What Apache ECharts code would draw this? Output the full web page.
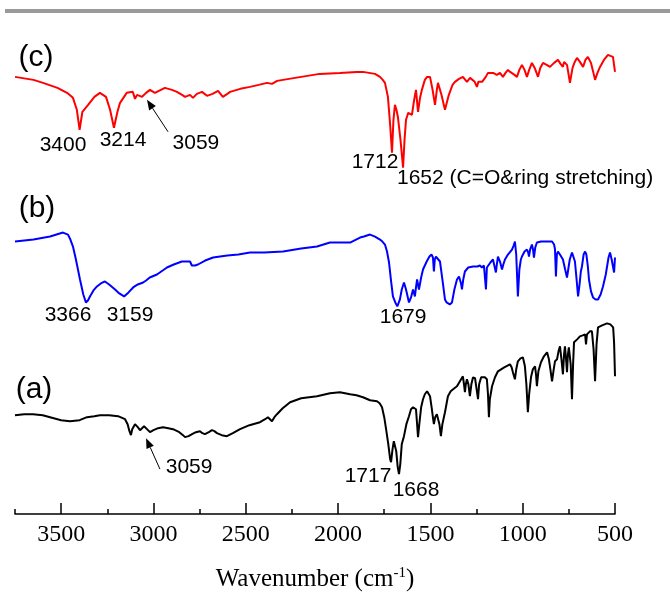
<!DOCTYPE html>
<html>
<head>
<meta charset="utf-8">
<script src="https://cdn.jsdelivr.net/npm/echarts@6/dist/echarts.min.js"></script>
<style>
  html, body { margin: 0; padding: 0; background: #fff; }
  #chart { width: 670px; height: 597px; }
</style>
</head>
<body>
<div id="chart"></div>
<script>
// wavenumber (cm-1) and offset transmittance readings, one pair of arrays per spectrum
var wnC = [3750,3650,3598,3520,3468,3436,3415,3400,3385,3354,3320,3290,3257,3235,3214,3195,3181,3145,3112,3100,3089,3075,3062,3040,3019,2992,2960,2938,2900,2873,2845,2829,2815,2802,2786,2765,2737,2710,2680,2650,2624,2600,2585,2530,2477,2430,2385,2358,2330,2298,2200,2100,1990,1900,1865,1800,1773,1758,1746,1730,1718,1708,1700,1692,1684,1676,1662,1648,1640,1632,1620,1610,1600,1588,1578,1567,1556,1546,1530,1518,1502,1488,1475,1465,1459,1440,1421,1400,1380,1367,1345,1324,1302,1285,1275,1260,1248,1240,1232,1220,1210,1200,1188,1160,1140,1123,1107,1093,1080,1068,1058,1044,1031,1018,1004,990,977,965,950,935,917,905,890,870,852,830,809,795,782,776,771,760,744,730,718,706,690,673,660,647,630,618,608,595,581,560,538,525,516,511,505,500];
var tC = [87.6,87,86.4,85.4,84.4,83.4,81,77,80.6,82,83.6,84.4,83.6,81,77.4,80.6,82.4,84.4,84.6,83.2,84,83.8,83.6,84.4,85,84.4,85,85.4,85,84.6,84,83.6,83.8,84,83.4,84.2,84.6,83.8,84.2,84.8,83.6,84.2,84.6,85.2,85.6,86,86.4,86.2,86.8,87,87.6,88.2,88.4,88.6,88.6,88.2,87.6,87,86.4,83.6,78,72.4,79,82,81,79.6,75,69.4,75,79,80.4,80.6,80,83,85,80.6,83.4,85,87,87.6,87.6,85,82,85,86.4,84,81,84,86,86.6,87.2,87.6,86.6,87.4,87.6,86.6,85.6,86.6,87,86.6,86.4,87.6,88.4,88.4,88,88.4,87.6,88.4,89,88.6,88.4,88,87.6,89,90,89,87.6,89,90.4,89.4,87.6,89.4,90.4,90,89.6,90.4,91,90.2,89.6,90.6,91,90,86.4,89.4,90.6,91.4,90.6,89.6,91,91.6,90.4,88.6,87,88.4,89.6,91,92,91.8,91.4,91.6,91.4,88.6];

var wnB = [3750,3650,3560,3490,3463,3450,3436,3420,3398,3380,3366,3355,3344,3325,3306,3285,3263,3240,3208,3185,3159,3135,3110,3085,3056,3040,3020,2981,2950,2927,2890,2846,2820,2802,2792,2786,2775,2759,2720,2677,2600,2540,2477,2400,2298,2200,2114,2044,1990,1935,1881,1860,1827,1800,1773,1760,1746,1735,1724,1714,1703,1690,1679,1672,1665,1655,1643,1632,1616,1605,1594,1584,1578,1572,1562,1550,1540,1520,1505,1494,1486,1481,1476,1470,1460,1448,1435,1421,1412,1405,1395,1383,1370,1356,1345,1340,1334,1329,1322,1313,1295,1269,1245,1232,1221,1210,1204,1199,1194,1188,1175,1161,1153,1145,1140,1134,1123,1112,1105,1096,1080,1058,1049,1042,1035,1026,1018,1010,1004,990,977,970,966,960,950,944,939,932,923,900,890,860,841,830,825,820,815,809,795,782,770,760,745,733,725,717,708,700,692,685,679,670,662,655,647,641,630,619,605,592,578,565,550,535,527,518,511,505,500];
var tB = [54.6,55,55.6,56.4,56,55,53.6,51,47,44,42.4,42.8,43.6,44.8,45.6,46.2,46.6,46,45,44.2,43.6,44.4,45.4,46,46.4,46.8,47.4,48,48.8,49.4,50,50.6,50.6,50.6,49.8,49.4,49.8,50,50.8,51.4,51.8,52,52.4,52.4,52.6,53.2,53.6,54.4,54.4,54.4,55.4,55.6,56,55.6,55,54.6,54,52.6,50.4,47,43.6,42.4,41.6,42,43,45,46.4,45,42.4,43.4,45,43.6,45.4,47,45,47.4,49,50.6,51.6,52,51.4,48.6,51,51.6,51.4,50.6,47,43,42.4,42.4,42,42.4,45,47,47.6,47.6,46.2,45,47,48.6,49.4,49.6,49.6,49.8,49.4,49.8,50,45,49.4,49.6,50.4,51,50.6,48.4,50,51.6,50.6,49,50,51,52,53,53.8,54.6,52,43.6,49,51,51.6,52.6,53,52.4,51.6,53,54,53,51.4,53.4,54.4,54.6,54.6,54.6,54.6,54,53,47.6,52,52.6,51.8,51,49,47.4,51,52.4,52,50.6,47,43.6,46,48.6,49.6,52,52.6,52,49.6,47,44.6,43.4,43,43,44,45.6,48,51.4,52.4,51,50.6,48.4,51.4];

var wnA = [3750,3700,3652,3600,3560,3500,3452,3400,3360,3320,3290,3240,3192,3154,3140,3130,3122,3115,3100,3085,3073,3062,3051,3035,3019,3000,2975,2948,2920,2894,2860,2840,2829,2810,2791,2770,2748,2735,2721,2700,2683,2670,2656,2630,2602,2570,2531,2480,2423,2395,2380,2370,2358,2345,2331,2300,2260,2200,2114,2044,1990,1935,1900,1865,1827,1789,1775,1762,1750,1740,1728,1718,1713,1705,1698,1692,1685,1677,1670,1663,1655,1643,1630,1616,1605,1594,1586,1578,1572,1567,1560,1550,1540,1530,1518,1510,1502,1492,1485,1481,1474,1465,1459,1451,1443,1435,1421,1410,1405,1390,1370,1356,1340,1324,1318,1313,1308,1302,1294,1286,1278,1269,1258,1248,1242,1236,1225,1215,1205,1194,1188,1183,1178,1166,1150,1134,1100,1069,1060,1053,1047,1042,1035,1026,1012,999,993,988,980,972,965,955,945,933,928,923,915,901,885,868,858,850,841,832,825,814,806,798,790,782,776,771,765,760,755,750,740,733,727,722,705,690,675,662,657,652,647,636,625,616,608,600,592,570,543,525,516,510,505,500];
var tA = [19.8,20,20,19.8,19.4,18.8,18.6,18.8,19.4,19.6,19.8,19.8,19.6,19,18,16.6,15.8,17,18,17.4,16.8,17.2,17.6,17,16.4,16.8,17.2,17.4,17.2,17,16.4,15.8,15.4,15.6,16,16.4,16.6,16.2,16,16.4,16.8,16.6,16.2,15.8,15.6,16.2,17,17.8,18.4,19,19.4,19.2,18.6,19.4,20,21.2,22.4,23.2,23.6,24.2,24.4,24,23.8,23.4,22.8,22.6,22.2,21.4,19.4,17,14,11,10.4,13,14.6,14.6,12.6,9.4,8,10,14,15.6,18,19.6,21,21.4,21.4,21,18,15.4,18,21.4,23,24,24.6,24.2,23.6,21,19,18,19.4,20,19.6,18,15.6,18,20.4,22.6,23.6,24.6,25.2,25.6,26.6,27.6,26,24.4,26,27,26,23.6,26,27.4,27.2,27,23,26,27.4,27.6,27.4,27,24,19.4,23,25.6,27.4,28.6,29.4,30,29.4,28.4,27.6,27,29,30.6,31.2,31.4,31,29.6,26,20.4,24,27.4,29,29.6,28,25.6,28.6,30.4,31.6,32.4,31,29,26.6,29,30.6,31,32.6,33.6,31,28,32,33.6,31,28.4,32,33.4,30,23,30,34.4,35,35.6,35.8,36,34,36,36.4,36.6,36.6,33,26.6,34,37.4,37.8,38.2,38,38,37.4,34.4,27.6];

// labelled bottom-axis ticks and the unlabelled ones in between
var majorTicks = [500, 1000, 1500, 2000, 2500, 3000, 3500];
var minorTicks = [750, 1250, 1750, 2250, 2750, 3250, 3750];

// peak annotations: [text, wavenumber, level]
var peakLabels = [
  ['3400', 3490, 74], ['3214', 3165, 75], ['3059', 2770, 74.4],
  ['1712', 1800, 70.6],
  ['3366', 3463, 39.8], ['3159', 3127, 39.8], ['1679', 1648, 39.4],
  ['3059', 2807, 9.4], ['1717', 1838, 7.6], ['1668', 1578, 4.8]
];
var sampleLabels = [['(c)', 3636, 91.4], ['(b)', 3631, 61.2], ['(a)', 3647, 25]];
var arrows = [[2921, 76.6, 3035, 83], [2965, 9, 3040, 15.2]];

function pairs(xs, ys) {
  var out = [];
  for (var i = 0; i < xs.length; i++) out.push([xs[i], ys[i]]);
  return out;
}

var chart = echarts.init(document.getElementById('chart'));

var axisFont = '"Liberation Serif", "Times New Roman", serif';
var textFont = '"Liberation Sans", Arial, sans-serif';

chart.setOption({
  animation: false,
  grid: { left: 15, right: 55, top: 15, bottom: 82 },
  xAxis: [{
    type: 'value', inverse: true, min: 500, max: 3750,
    axisLine: { lineStyle: { color: '#000', width: 1.5 } },
    axisTick: { inside: false, length: -11, customValues: majorTicks, lineStyle: { color: '#000', width: 1.5 } },
    axisLabel: {
      customValues: majorTicks, color: '#000', fontFamily: axisFont, fontSize: 24, margin: 9,
      formatter: function (v) { return String(v); }
    },
    splitLine: { show: false },
    name: '{a|Wavenumber (cm}{s|-1}{a|)}',
    nameLocation: 'middle', nameGap: 52,
    nameTextStyle: {
      rich: {
        a: { fontFamily: axisFont, fontSize: 25, color: '#000' },
        s: { fontFamily: axisFont, fontSize: 15, color: '#000', verticalAlign: 'top', padding: [0, 0, 12, 0] }
      }
    }
  }, {
    type: 'value', inverse: true, min: 500, max: 3750, position: 'bottom',
    axisLine: { show: false },
    axisTick: { inside: false, length: -5, customValues: minorTicks, lineStyle: { color: '#000', width: 1.5 } },
    axisLabel: { show: false },
    splitLine: { show: false }
  }],
  yAxis: { type: 'value', min: 0, max: 100, show: false },
  series: [
    { name: 'c', type: 'line', data: pairs(wnC, tC), showSymbol: false, lineStyle: { color: '#ff0000', width: 2 } },
    { name: 'b', type: 'line', data: pairs(wnB, tB), showSymbol: false, lineStyle: { color: '#0000ff', width: 2 } },
    { name: 'a', type: 'line', data: pairs(wnA, tA), showSymbol: false, lineStyle: { color: '#000000', width: 2 } }
  ]
});

// texts and arrows are anchored in data space and placed with the chart's own scales
function px(wn, v) { return chart.convertToPixel({ xAxisIndex: 0, yAxisIndex: 0 }, [wn, v]); }

var g = [];
g.push({ type: 'rect', shape: { x: 5, y: 9, width: 665, height: 4 }, style: { fill: '#9a9a9a' } });
peakLabels.forEach(function (p) {
  var q = px(p[1], p[2]);
  g.push({ type: 'text', x: q[0], y: q[1], style: { text: p[0], font: '21px ' + textFont, fill: '#000', align: 'center', verticalAlign: 'middle' } });
});
var q1652 = px(1681, 67.2);
g.push({ type: 'text', x: q1652[0], y: q1652[1], style: { text: '1652 (C=O&ring stretching)', font: '21px ' + textFont, fill: '#000', align: 'left', verticalAlign: 'middle' } });
sampleLabels.forEach(function (p) {
  var q = px(p[1], p[2]);
  g.push({ type: 'text', x: q[0], y: q[1], style: { text: p[0], font: '30px ' + textFont, fill: '#000', align: 'center', verticalAlign: 'middle' } });
});
arrows.forEach(function (a) {
  var s = px(a[0], a[1]), e = px(a[2], a[3]);
  var ang = Math.atan2(e[1] - s[1], e[0] - s[0]);
  var L = 10, W = 4;
  var bx = e[0] - L * Math.cos(ang), by = e[1] - L * Math.sin(ang);
  g.push({ type: 'line', shape: { x1: s[0], y1: s[1], x2: bx, y2: by }, style: { stroke: '#000', lineWidth: 1 } });
  g.push({ type: 'polygon', shape: { points: [
    [e[0], e[1]],
    [bx + W * Math.sin(ang), by - W * Math.cos(ang)],
    [bx - W * Math.sin(ang), by + W * Math.cos(ang)]
  ] }, style: { fill: '#000' } });
});
chart.setOption({ graphic: g });
</script>
</body>
</html>
